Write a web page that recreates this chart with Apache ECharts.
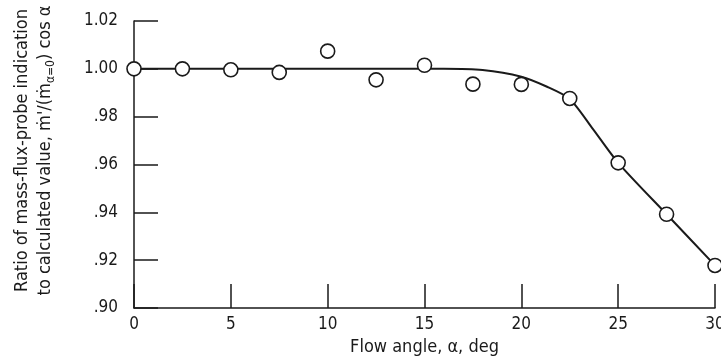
<!DOCTYPE html>
<html>
<head>
<meta charset="utf-8">
<script src="https://cdn.jsdelivr.net/npm/echarts@6/dist/echarts.min.js"></script>
<style>html,body{margin:0;padding:0;background:#fff;}#c{width:721px;height:364px;}</style>
</head>
<body>
<div id="c"></div>
<script>
const angles = [0, 2.5, 5, 7.5, 10, 12.5, 15, 17.5, 20, 22.5, 25, 27.5, 30];
const ratios = [1.000, 1.000, 0.9996, 0.9985, 1.0074, 0.9954, 1.0015, 0.9936, 0.9935, 0.9876, 0.9607, 0.9392, 0.9178];
const curveAngles = [0, 16, 18, 20, 21.3, 22.5, 23.7, 25, 27.5, 30];
const curveRatios = [1.000, 1.000, 0.9995, 0.9967, 0.9926, 0.9874, 0.9748, 0.9607, 0.9392, 0.9178];
const xTicks = [0, 5, 10, 15, 20, 25, 30];
const yTicks = [0.90, 0.92, 0.94, 0.96, 0.98, 1.00, 1.02];

const FONT = "'Liberation Sans Narrow', 'DejaVu Sans Condensed', sans-serif";
const INK = '#1a1a1a';
const chart = echarts.init(document.getElementById('c'), null, {renderer: 'canvas'});
chart.setOption({
  animation: false,
  backgroundColor: '#fff',
  grid: {left: 134, right: 6, top: 21, bottom: 56, containLabel: false, outerBoundsMode: 'none'},
  xAxis: {
    type: 'value', min: xTicks[0], max: xTicks[xTicks.length - 1], interval: 5,
    name: 'Flow angle, α, deg', nameLocation: 'middle', nameGap: 30,
    nameTextStyle: {fontFamily: FONT, fontSize: 18, color: INK},
    axisLine: {lineStyle: {color: INK, width: 1.5}},
    axisTick: {inside: true, length: 24, lineStyle: {color: INK, width: 1.5}},
    axisLabel: {fontFamily: FONT, fontSize: 17, color: INK, margin: 8},
    splitLine: {show: false}
  },
  yAxis: {
    type: 'value', min: yTicks[0], max: yTicks[yTicks.length - 1], interval: 0.02,
    name: '{a|Ratio of mass-flux-probe indication}\n{a|to calculated value, ṁ\'/(ṁ}{s|α=0}{a|) cos α}',
    nameLocation: 'middle', nameRotate: 90, nameGap: 77,
    nameTextStyle: {
      fontFamily: FONT, fontSize: 18, color: INK, lineHeight: 23, padding: [0, 0, 0, 28],
      rich: {
        a: {fontFamily: FONT, fontSize: 18, color: INK, lineHeight: 23},
        s: {fontFamily: FONT, fontSize: 12, color: INK, lineHeight: 23, padding: [10, 0, 0, 0]}
      }
    },
    axisLine: {show: true, lineStyle: {color: INK, width: 1.5}},
    axisTick: {inside: true, length: 24, lineStyle: {color: INK, width: 1.5}},
    axisLabel: {
      fontFamily: FONT, fontSize: 17, color: INK, margin: 16,
      formatter: v => { const s = (Math.round(v * 100) / 100).toFixed(2); return v >= 1 ? s : s.replace(/^0/, ''); }
    },
    splitLine: {show: false}
  },
  series: [
    {
      type: 'line', data: curveAngles.map((a, i) => [a, curveRatios[i]]),
      smooth: 0.25, showSymbol: false, symbol: 'none',
      lineStyle: {color: INK, width: 2}, z: 2
    },
    {
      type: 'scatter', data: angles.map((a, i) => [a, ratios[i]]),
      symbol: 'circle', symbolSize: 14,
      itemStyle: {color: '#fff', borderColor: INK, borderWidth: 1.6, opacity: 1}, z: 3
    }
  ]
});
</script>
</body>
</html>
